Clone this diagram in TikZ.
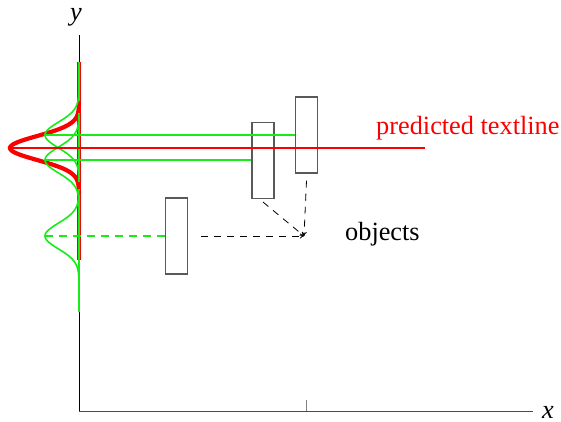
\documentclass[tikz,border=0pt]{standalone}
\usepackage{fontspec}
\setmainfont{Liberation Serif}
\usetikzlibrary{arrows.meta}
\definecolor{mygreen}{RGB}{25,235,25}
\definecolor{myred}{RGB}{250,0,0}
\begin{document}
\begin{tikzpicture}[x=1pt,y=-1pt,
  box/.style={draw=black!65, line width=1.1pt, minimum width=22pt, minimum height=76pt, inner sep=0pt},
  gline/.style={draw=mygreen, line width=1.7pt},
  gcurve/.style={draw=mygreen, line width=1.6pt},
  rcurve/.style={draw=myred, line width=4.2pt},
  rline/.style={draw=myred, line width=1.8pt},
  objarrow/.style={draw=black, line width=0.8pt, dash pattern=on 7pt off 6pt, -{To[length=4pt,width=5pt]}},
  axis/.style={draw=black, line width=0.9pt},
  lbl/.style={font=\fontsize{26.3}{31}\selectfont, inner sep=0pt}]
\useasboundingbox (0,0) rectangle (561,421);
% axes
\coordinate (O) at (79,411);
\coordinate (ytop) at (79,35);
\coordinate (xend) at (533,411);
\coordinate (tick) at (306,400);
\draw[axis] (ytop) -- (O);
\draw[axis, draw=black!70] (O) -- (xend);
\draw[draw=black!50, line width=0.8pt] (tick) -- (tick |- O);
\node[lbl, anchor=base] (ylab) at (76,20) {\textit{y}};
\node[lbl, anchor=base] (xlab) at (548,418) {\textit{x}};
% thick vertical projection lines
\coordinate (vtop) at (79,62);
\coordinate (vred) at (79,260);
\coordinate (vbot) at (79,312);
\draw[draw=myred, line width=3.3pt] (vtop) -- (vred);
\draw[draw=mygreen, line width=2.7pt] (vtop) -- (vbot);
% red gaussian
\draw[rcurve, line cap=round] plot[domain=103:193, samples=90, variable=\t] ({79-69*exp(-1*((\t-148)*(\t-148))/288)}, \t);
% green gaussians
\draw[gcurve] plot[domain=88:182, samples=90, variable=\t] ({79-34*exp(-1*((\t-135)*(\t-135))/330)}, \t);
\draw[gcurve] plot[domain=113:207, samples=90, variable=\t] ({79-34*exp(-1*((\t-160)*(\t-160))/330)}, \t);
\draw[gcurve] plot[domain=189:283, samples=90, variable=\t] ({79-34*exp(-1*((\t-236)*(\t-236))/330)}, \t);
% boxes
\node[box] (A) at (176.5,236) {};
\node[box] (B) at (263,160.5) {};
\node[box] (C) at (306.5,135) {};
% peak points
\coordinate (g1) at (45,135);
\coordinate (g2) at (45,160);
\coordinate (g3) at (45,236);
\coordinate (r0) at (10,148);
\coordinate (r1) at (425,148);
\draw[gline] (g1) -- (g1 -| C.west);
\draw[gline] (g2) -- (g2 -| B.west);
\draw[gline, dash pattern=on 8pt off 6pt] (g3) -- (A.west);
\draw[rline] (r0) -- (r1);
% object arrows
\coordinate (p) at (304,236);
\draw[objarrow] ([xshift=13pt]A.east) -- (p);
\draw[objarrow] ([yshift=-3pt]B.south) -- (p);
\draw[objarrow] ([yshift=-7pt]C.south) -- (p);
% labels
\node[lbl, anchor=base west] (obj) at (345,240) {objects};
\node[lbl, anchor=base west, text=myred] (pred) at (376,134) {predicted textline};
\end{tikzpicture}
\end{document}
